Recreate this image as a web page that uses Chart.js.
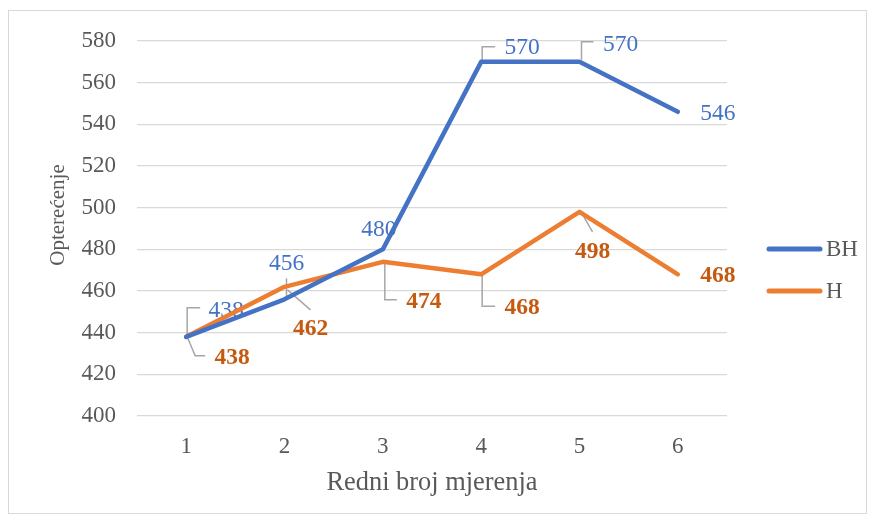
<!DOCTYPE html>
<html>
<head>
<meta charset="utf-8">
<script src="https://cdn.jsdelivr.net/npm/chart.js@4.4.1/dist/chart.umd.min.js"></script>
<style>
  html, body { margin: 0; padding: 0; background: #fff; }
  #wrap { position: relative; width: 876px; height: 523px; }
  #frame { position: absolute; left: 8px; top: 10px; width: 859px; height: 504px; border: 1px solid #D9D9D9; box-sizing: border-box; pointer-events: none; }
</style>
</head>
<body>
<div id="wrap">
  <canvas id="chartOpt" width="876" height="523"></canvas>
  <div id="frame"></div>
</div>
<script>
const CATEGORIES = ['1', '2', '3', '4', '5', '6'];
const BH_VALUES = [438, 456, 480, 570, 570, 546];
const H_VALUES = [438, 462, 474, 468, 498, 468];
const Y_MIN = 400, Y_MAX = 580, Y_STEP = 20;
const Y_TITLE = 'Opterećenje';
const X_TITLE = 'Redni broj mjerenja';

const FONT = '"Liberation Serif", "Times New Roman", serif';
const BLUE = '#4472C4';
const ORANGE = '#ED7D31';
const TEXT = '#595959';

// label placement (text centre relative to point) and leader lines, as moved by hand in the original
const BH_LABEL_POS = [
  { dx: 40, dy: -27, leader: [[1, 0], [1, -29], [14, -29]] },
  { dx: 2, dy: -37, leader: [[2, -21], [2, -1]] },
  { dx: -4, dy: -21, leader: null },
  { dx: 41, dy: -15, leader: [[1, -1], [1, -15], [14, -15]] },
  { dx: 41, dy: -18, leader: [[2, -2], [2, -20], [14, -20]] },
  { dx: 40, dy: 1, leader: null }
];
const H_LABEL_POS = [
  { dx: 46, dy: 20, leader: [[1, 0], [9, 19], [19, 19]] },
  { dx: 26, dy: 41, leader: [[3, 3], [26, 23]] },
  { dx: 41, dy: 39, leader: [[2, 0], [2, 38], [14, 38]] },
  { dx: 41, dy: 33, leader: [[1, 1], [1, 32], [14, 32]] },
  { dx: 13, dy: 39, leader: [[1, -1], [13, 20]] },
  { dx: 40, dy: 1, leader: null }
];

const labelPlugin = {
  id: 'excelLabels',
  beforeDatasetsDraw(chart) {
    const ctx = chart.ctx;
    chart.data.datasets.forEach((ds, di) => {
      const meta = chart.getDatasetMeta(di);
      const pos = ds.labelPos;
      meta.data.forEach((pt, i) => {
        const p = pos[i];
        ctx.save();
        if (p.leader) {
          ctx.strokeStyle = '#A6A6A6';
          ctx.lineWidth = 1.5;
          ctx.beginPath();
          p.leader.forEach((q, k) => {
            if (k === 0) ctx.moveTo(pt.x + q[0], pt.y + q[1]);
            else ctx.lineTo(pt.x + q[0], pt.y + q[1]);
          });
          ctx.stroke();
        }
        ctx.fillStyle = ds.labelColor;
        ctx.font = (ds.labelBold ? 'bold ' : '') + '23.5px ' + FONT;
        ctx.textAlign = 'center';
        ctx.textBaseline = 'middle';
        ctx.fillText(String(ds.data[i]), pt.x + p.dx, pt.y + p.dy + 1);
        ctx.restore();
      });
    });
  },
  afterDraw(chart) {
    const ctx = chart.ctx;
    // legend on the right
    const rows = [249, 291];
    chart.data.datasets.forEach((ds, di) => {
      const y = rows[di];
      ctx.save();
      ctx.strokeStyle = ds.borderColor;
      ctx.lineWidth = 5;
      ctx.lineCap = 'round';
      ctx.beginPath();
      ctx.moveTo(769, y);
      ctx.lineTo(820, y);
      ctx.stroke();
      ctx.fillStyle = TEXT;
      ctx.font = '23px ' + FONT;
      ctx.textAlign = 'left';
      ctx.textBaseline = 'middle';
      ctx.fillText(ds.label, 826, y + 1);
      ctx.restore();
    });
    // vertical axis title
    ctx.save();
    ctx.translate(58, 215);
    ctx.rotate(-Math.PI / 2);
    ctx.fillStyle = TEXT;
    ctx.font = '21px ' + FONT;
    ctx.textAlign = 'center';
    ctx.textBaseline = 'middle';
    ctx.fillText(Y_TITLE, 0, 0);
    ctx.restore();
  }
};

new Chart(document.getElementById('chartOpt'), {
  type: 'line',
  data: {
    labels: CATEGORIES,
    datasets: [
      { label: 'BH', data: BH_VALUES, borderColor: BLUE, backgroundColor: BLUE, borderWidth: 4.5,
        pointRadius: 0, tension: 0, borderCapStyle: 'round', borderJoinStyle: 'round',
        labelColor: BLUE, labelBold: false, labelPos: BH_LABEL_POS },
      { label: 'H', data: H_VALUES, borderColor: ORANGE, backgroundColor: ORANGE, borderWidth: 4.5,
        pointRadius: 0, tension: 0, borderCapStyle: 'round', borderJoinStyle: 'round',
        labelColor: '#C55A11', labelBold: true, labelPos: H_LABEL_POS }
    ]
  },
  options: {
    responsive: false,
    animation: false,
    layout: { padding: { left: 0, right: 149, top: 41, bottom: 0 } },
    plugins: { legend: { display: false }, tooltip: { enabled: false } },
    scales: {
      x: {
        offset: true,
        grid: { display: false },
        border: { display: false },
        ticks: { color: TEXT, font: { family: FONT, size: 23 }, padding: 9 },
        title: { display: true, text: X_TITLE, color: TEXT,
                 font: { family: FONT, size: 26.4 }, padding: { bottom: 24 } },
        afterFit(scale) { scale.height = 107; }
      },
      y: {
        min: Y_MIN, max: Y_MAX,
        ticks: { stepSize: Y_STEP, color: TEXT, font: { family: FONT, size: 23 }, padding: 21 },
        grid: { color: '#D9D9D9', lineWidth: 1.3, drawTicks: false },
        border: { display: false },
        afterFit(scale) { scale.width = 137; }
      }
    }
  },
  plugins: [labelPlugin]
});
</script>
</body>
</html>
